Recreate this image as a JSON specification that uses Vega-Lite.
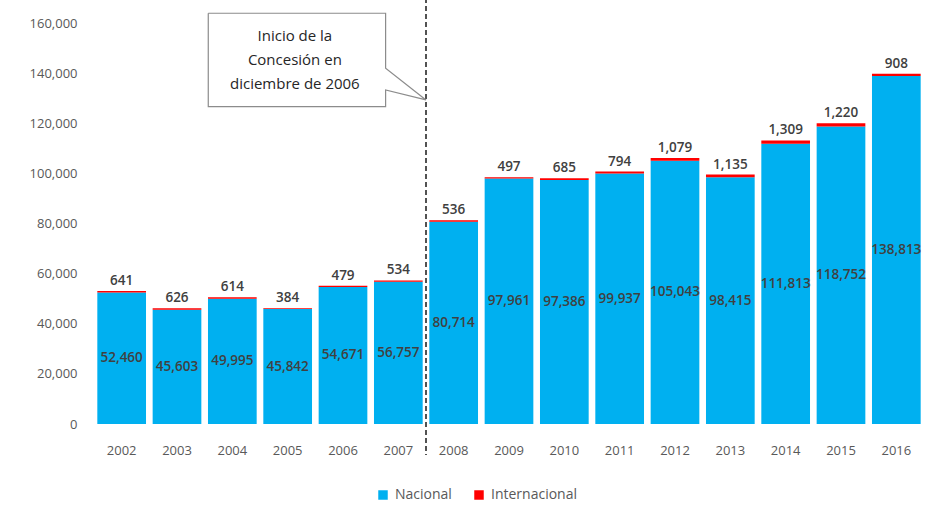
{
  "$schema": "https://vega.github.io/schema/vega-lite/v6.json",
  "width": 830,
  "height": 401,
  "autosize": {"type": "none"},
  "padding": {"left": 94, "top": 23, "right": 2, "bottom": 81},
  "background": "white",
  "config": {"view": {"stroke": null}, "font": "Open Sans"},
  "datasets": {
    "traffic": [
      {"year": "2002", "Nacional": 52460, "Internacional": 641},
      {"year": "2003", "Nacional": 45603, "Internacional": 626},
      {"year": "2004", "Nacional": 49995, "Internacional": 614},
      {"year": "2005", "Nacional": 45842, "Internacional": 384},
      {"year": "2006", "Nacional": 54671, "Internacional": 479},
      {"year": "2007", "Nacional": 56757, "Internacional": 534},
      {"year": "2008", "Nacional": 80714, "Internacional": 536},
      {"year": "2009", "Nacional": 97961, "Internacional": 497},
      {"year": "2010", "Nacional": 97386, "Internacional": 685},
      {"year": "2011", "Nacional": 99937, "Internacional": 794},
      {"year": "2012", "Nacional": 105043, "Internacional": 1079},
      {"year": "2013", "Nacional": 98415, "Internacional": 1135},
      {"year": "2014", "Nacional": 111813, "Internacional": 1309},
      {"year": "2015", "Nacional": 118752, "Internacional": 1220},
      {"year": "2016", "Nacional": 138813, "Internacional": 908}
    ],
    "callout": [
      {"i": 0, "xi": 2.065, "v": 163900},
      {"i": 1, "xi": 5.27, "v": 163900},
      {"i": 2, "xi": 5.27, "v": 142000},
      {"i": 3, "xi": 6.0, "v": 129300},
      {"i": 4, "xi": 5.27, "v": 133300},
      {"i": 5, "xi": 5.27, "v": 126600},
      {"i": 6, "xi": 2.065, "v": 126600},
      {"i": 7, "xi": 2.065, "v": 163900}
    ],
    "note": [
      {"xi": 3.63, "v": 154800, "label": ["Inicio de la", "Concesión en", "diciembre de 2006"]}
    ],
    "divider": [
      {"xi": 6, "top": 170000, "bottom": -12400}
    ]
  },
  "resolve": {"scale": {"x": "independent", "y": "independent"}},
  "layer": [
    {
      "data": {"name": "traffic"},
      "transform": [{"fold": ["Nacional", "Internacional"], "as": ["serie", "valor"]}],
      "mark": {"type": "bar"},
      "encoding": {
        "x": {
          "field": "year", "type": "ordinal",
          "scale": {"paddingInner": 0.12, "paddingOuter": 0.06},
          "axis": {"title": null, "labelAngle": 0, "domain": false, "ticks": false, "labelPadding": 20, "labelColor": "#595959", "labelFontSize": 13}
        },
        "y": {
          "field": "valor", "type": "quantitative", "stack": "zero",
          "scale": {"domain": [0, 160000], "nice": false},
          "axis": {"title": null, "values": [0, 20000, 40000, 60000, 80000, 100000, 120000, 140000, 160000], "format": ",d", "grid": false, "domain": false, "ticks": false, "labelPadding": 17, "labelColor": "#595959", "labelFontSize": 13}
        },
        "color": {
          "field": "serie", "type": "nominal",
          "scale": {"domain": ["Nacional", "Internacional"], "range": ["#00B0F0", "#FF0000"]},
          "legend": {"title": null, "orient": "none", "legendX": 282, "legendY": 465, "direction": "horizontal", "symbolType": "square", "symbolSize": 90, "symbolStrokeWidth": 0, "labelFontSize": 14, "labelColor": "#595959", "columnPadding": 20, "labelOffset": 5}
        },
        "order": {"field": "serie", "sort": "descending"}
      }
    },
    {
      "data": {"name": "traffic"},
      "mark": {"type": "text", "baseline": "middle", "fontSize": 13.5, "fontWeight": 600, "color": "#404040"},
      "encoding": {
        "x": {"field": "year", "type": "ordinal", "scale": {"paddingInner": 0.12, "paddingOuter": 0.06}, "axis": null},
        "y": {"field": "Nacional", "type": "quantitative", "scale": {"domain": [0, 320000], "nice": false}, "axis": null},
        "text": {"field": "Nacional", "type": "quantitative", "format": ",d"}
      }
    },
    {
      "data": {"name": "traffic"},
      "transform": [
        {"fold": ["Nacional", "Internacional"], "as": ["serie", "valor"]},
        {"joinaggregate": [{"op": "sum", "field": "valor", "as": "total"}], "groupby": ["year"]},
        {"filter": {"field": "serie", "equal": "Internacional"}}
      ],
      "mark": {"type": "text", "baseline": "bottom", "dy": -3, "fontSize": 13.5, "fontWeight": 600, "color": "#404040"},
      "encoding": {
        "x": {"field": "year", "type": "ordinal", "scale": {"paddingInner": 0.12, "paddingOuter": 0.06}, "axis": null},
        "y": {"field": "total", "type": "quantitative", "scale": {"domain": [0, 160000], "nice": false}, "axis": null},
        "text": {"field": "valor", "type": "quantitative", "format": ",d"}
      }
    },
    {
      "data": {"name": "divider"},
      "mark": {"type": "rule", "color": "#1a1a1a", "strokeWidth": 1.5, "strokeDash": [5, 3]},
      "encoding": {
        "x": {"field": "xi", "type": "quantitative", "scale": {"domain": [0, 15], "nice": false, "zero": false}, "axis": null},
        "y": {"field": "top", "type": "quantitative", "scale": {"domain": [0, 160000], "nice": false}, "axis": null},
        "y2": {"field": "bottom"}
      }
    },
    {
      "data": {"name": "callout"},
      "mark": {"type": "line", "color": "#8c8c8c", "strokeWidth": 1.2, "interpolate": "linear"},
      "encoding": {
        "x": {"field": "xi", "type": "quantitative", "scale": {"domain": [0, 15], "nice": false, "zero": false}, "axis": null},
        "y": {"field": "v", "type": "quantitative", "scale": {"domain": [0, 160000], "nice": false}, "axis": null},
        "order": {"field": "i", "type": "quantitative"}
      }
    },
    {
      "data": {"name": "note"},
      "mark": {"type": "text", "baseline": "middle", "align": "center", "fontSize": 15, "lineHeight": 24, "color": "#262626"},
      "encoding": {
        "x": {"field": "xi", "type": "quantitative", "scale": {"domain": [0, 15], "nice": false, "zero": false}, "axis": null},
        "y": {"field": "v", "type": "quantitative", "scale": {"domain": [0, 160000], "nice": false}, "axis": null},
        "text": {"field": "label"}
      }
    }
  ]
}
